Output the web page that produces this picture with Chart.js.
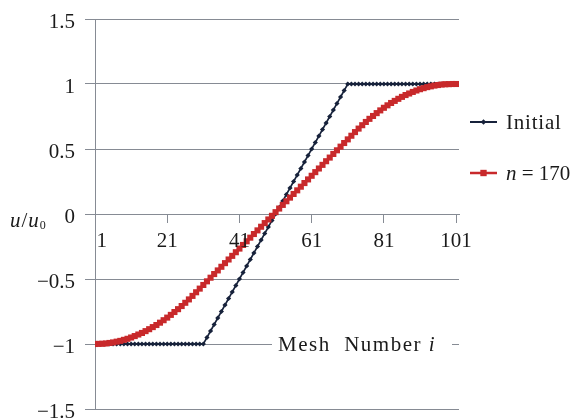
<!DOCTYPE html>
<html><head><meta charset="utf-8">
<script src="https://cdn.jsdelivr.net/npm/chart.js@4.4.1/dist/chart.umd.min.js"></script>
<style>html,body{margin:0;padding:0;background:#fff}canvas{display:block}</style>
</head><body>
<canvas id="c" width="575" height="418"></canvas>
<script>
// ---- data ----
const meshIndex = [1,2,3,4,5,6,7,8,9,10,11,12,13,14,15,16,17,18,19,20,21,22,23,24,25,26,27,28,29,30,
31,32,33,34,35,36,37,38,39,40,41,42,43,44,45,46,47,48,49,50,51,52,53,54,55,56,57,58,59,60,
61,62,63,64,65,66,67,68,69,70,71,72,73,74,75,76,77,78,79,80,81,82,83,84,85,86,87,88,89,90,
91,92,93,94,95,96,97,98,99,100,101];
const initialValues = [-1,-1,-1,-1,-1,-1,-1,-1,-1,-1,-1,-1,-1,-1,-1,-1,-1,-1,-1,-1,-1,-1,-1,-1,-1,-1,-1,-1,-1,-1,-1,
-0.95,-0.9,-0.85,-0.8,-0.75,-0.7,-0.65,-0.6,-0.55,-0.5,-0.45,-0.4,-0.35,-0.3,-0.25,-0.2,-0.15,-0.1,-0.05,0,
0.05,0.1,0.15,0.2,0.25,0.3,0.35,0.4,0.45,0.5,0.55,0.6,0.65,0.7,0.75,0.8,0.85,0.9,0.95,
1,1,1,1,1,1,1,1,1,1,1,1,1,1,1,1,1,1,1,1,1,1,1,1,1,1,1,1,1,1,1];
const n170Values = [-1.000,-0.999,-0.998,-0.996,-0.992,-0.988,-0.982,-0.976,-0.968,-0.960,
-0.950,-0.939,-0.927,-0.915,-0.901,-0.886,-0.870,-0.854,-0.836,-0.817,
-0.797,-0.776,-0.754,-0.732,-0.708,-0.683,-0.657,-0.630,-0.602,-0.574,
-0.546,-0.518,-0.490,-0.462,-0.434,-0.406,-0.378,-0.350,-0.322,-0.294,
-0.266,-0.238,-0.210,-0.182,-0.154,-0.126,-0.098,-0.070,-0.042,-0.014,
0.014,0.042,0.070,0.098,0.126,0.154,0.182,0.210,0.238,0.266,
0.294,0.322,0.350,0.378,0.406,0.434,0.462,0.490,0.518,0.546,
0.574,0.602,0.630,0.657,0.683,0.708,0.732,0.754,0.776,0.797,
0.817,0.836,0.854,0.870,0.886,0.901,0.915,0.927,0.939,0.950,
0.960,0.968,0.976,0.982,0.988,0.992,0.996,0.998,0.999,1.000,
1.000];
const xTickValues = [1,21,41,61,81,101];
const yTickValues = [-1.5,-1,-0.5,0,0.5,1,1.5];
const seriesNames = ['Initial','n170'];

// ---- styles ----
const SERIF = '"Liberation Serif","Times New Roman",serif';
const TXT = '#1a1a1a';
const GRID = '#868b94';
const NAVY = '#17223b';
const RED = '#c8292b';

const pts = vals => meshIndex.map((x,k)=>({x, y: vals[k]}));

const overlay = {
  id: 'overlay',
  beforeDatasetsDraw(chart){
    const {ctx} = chart; const ys = chart.scales.y;
    const y = ys.getPixelForValue(-1);
    ctx.save();
    ctx.font = '21px ' + SERIF;
    ctx.letterSpacing = '1.5px';
    const a = 'Mesh  Number ';
    ctx.fillStyle = '#fff';
    ctx.fillRect(272, y-4, 180, 8);
    ctx.fillStyle = TXT;
    ctx.textBaseline = 'alphabetic';
    ctx.fillText(a, 278, y+7);
    const w = ctx.measureText(a).width;
    ctx.font = 'italic 21px ' + SERIF;
    ctx.fillText('i', 278 + w, y+7);
    ctx.restore();
  },
  afterDraw(chart){
    const {ctx} = chart; const xs = chart.scales.x, ys = chart.scales.y;
    ctx.save();
    // x tick labels
    ctx.font = '21px ' + SERIF;
    ctx.fillStyle = TXT;
    ctx.textBaseline = 'alphabetic';
    const by = ys.getPixelForValue(0) + 33;
    xTickValues.forEach((v,k)=>{
      const px = xs.getPixelForValue(v);
      if (k === 0) { ctx.textAlign = 'left'; ctx.fillText(String(v), px + 1.5, by); }
      else { ctx.textAlign = 'center'; ctx.fillText(String(v), px, by); }
    });
    // y axis title u/u0
    ctx.textAlign = 'left';
    const ty = ys.getPixelForValue(0) + 13;
    let x = 10;
    ctx.font = 'italic 21px ' + SERIF; ctx.fillText('u', x, ty); x += ctx.measureText('u').width + 1;
    ctx.font = '21px ' + SERIF; ctx.fillText('/', x, ty); x += ctx.measureText('/').width + 1;
    ctx.font = 'italic 21px ' + SERIF; ctx.fillText('u', x, ty); x += ctx.measureText('u').width + 1;
    ctx.font = '12px ' + SERIF; ctx.fillText('0', x, ty + 2);
    // legend
    const items = [
      {y:122, color: NAVY, style:'rectRot', r:2.8, lw:2},
      {y:173, color: RED, style:'rect', r:4.5, lw:2.5}
    ];
    items.forEach((it,k)=>{
      ctx.strokeStyle = it.color; ctx.lineWidth = it.lw;
      ctx.beginPath(); ctx.moveTo(470, it.y); ctx.lineTo(497, it.y); ctx.stroke();
      ctx.fillStyle = it.color;
      Chart.helpers.drawPoint(ctx, {pointStyle: it.style, radius: it.r, borderWidth: 0, rotation: 0}, 483.5, it.y);
    });
    ctx.fillStyle = TXT;
    ctx.textBaseline = 'alphabetic';
    ctx.font = '21px ' + SERIF; ctx.letterSpacing = '0.8px';
    ctx.fillText('Initial', 506, 129);
    ctx.letterSpacing = '0px';
    ctx.font = 'italic 21px ' + SERIF; ctx.fillText('n', 506, 180);
    let lx = 506 + ctx.measureText('n').width;
    ctx.font = '21px ' + SERIF; ctx.fillText(' = 170', lx, 180);
    ctx.restore();
  }
};

new Chart(document.getElementById('c'), {
  type: 'line',
  data: {
    datasets: [
      {label: seriesNames[1], data: pts(n170Values), borderColor: RED, backgroundColor: RED,
       borderWidth: 2.5, pointStyle: 'rect', pointRadius: 4.3, pointBorderWidth: 0, pointBackgroundColor: RED, order: 0, tension: 0},
      {label: seriesNames[0], data: pts(initialValues), borderColor: NAVY, backgroundColor: NAVY,
       borderWidth: 1.6, pointStyle: 'rectRot', pointRadius: 2.6, pointBorderWidth: 0, pointBackgroundColor: NAVY, order: 1, tension: 0}
    ]
  },
  options: {
    responsive: false, animation: false, devicePixelRatio: 1,
    layout: {padding: {left: 0, top: 19, right: 116, bottom: 9}},
    plugins: {legend: {display: false}, tooltip: {enabled: false}},
    scales: {
      x: {
        type: 'linear', min: 1, max: 101.8, position: {y: 0},
        afterBuildTicks: s => { s.ticks = xTickValues.map(v=>({value:v})); },
        afterFit: s => { s.height = 0; s.paddingLeft = 0; s.paddingRight = 0; s.paddingTop = 0; s.paddingBottom = 0; },
        ticks: {display: false},
        grid: {drawOnChartArea: false, drawTicks: true, tickLength: 8, color: GRID, lineWidth: 1},
        border: {display: true, color: GRID, width: 1}
      },
      y: {
        type: 'linear', min: -1.5, max: 1.5,
        afterBuildTicks: s => { s.ticks = yTickValues.map(v=>({value:v})); },
        afterFit: s => { s.width = 95; s.paddingTop = 0; s.paddingBottom = 0; },
        ticks: {
          font: {family: SERIF, size: 21}, color: TXT, padding: 10, labelOffset: 3,
          callback: v => v < 0 ? '\u2212' + Math.abs(v) : String(v)
        },
        grid: {color: GRID, lineWidth: 1, drawTicks: true, tickLength: 10},
        border: {display: true, color: GRID, width: 1}
      }
    }
  },
  plugins: [overlay]
});
</script>
</body></html>
